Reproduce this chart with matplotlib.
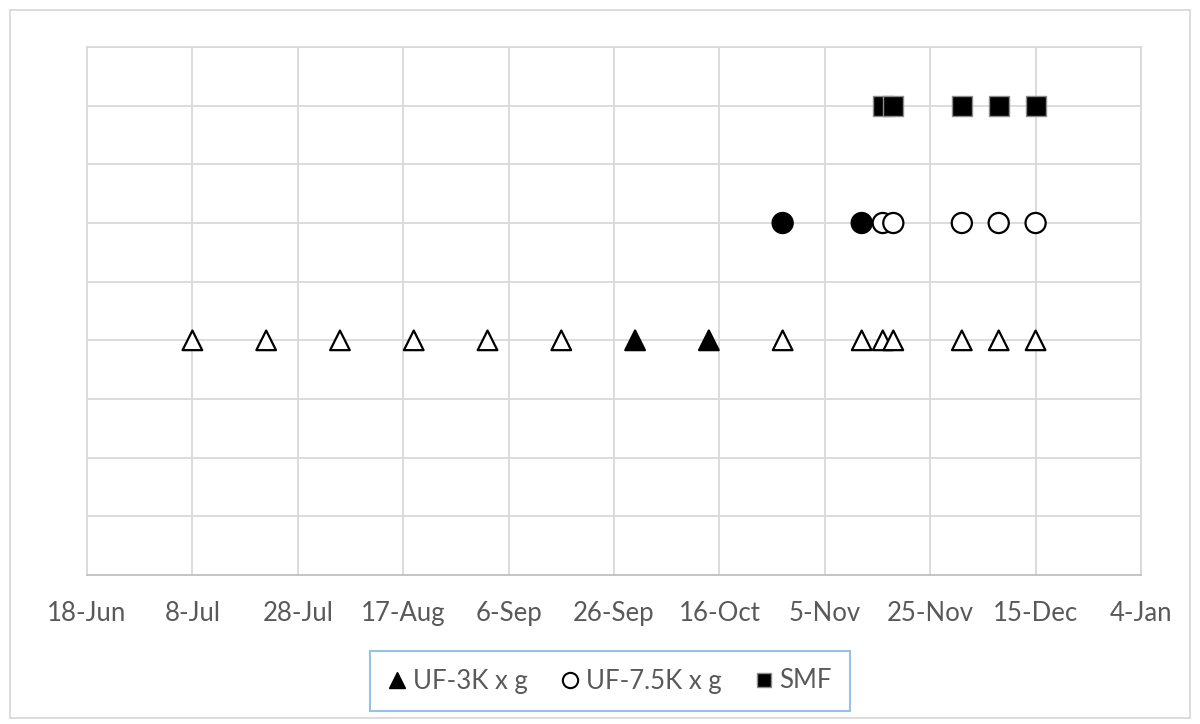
import matplotlib
matplotlib.use("Agg")
import matplotlib.pyplot as plt
import matplotlib.dates as mdates
from matplotlib.lines import Line2D
from matplotlib.patches import Rectangle
import datetime as dt

# ---- data ----
uf3k_dates = ["2018-07-08", "2018-07-22", "2018-08-05", "2018-08-19", "2018-09-02",
              "2018-09-16", "2018-09-30", "2018-10-14", "2018-10-28", "2018-11-12",
              "2018-11-16", "2018-11-18", "2018-12-01", "2018-12-08", "2018-12-15"]
uf3k_filled = [False, False, False, False, False, False, True, True, False, False,
               False, False, False, False, False]
uf3k_level = 4

uf75k_dates = ["2018-10-28", "2018-11-12", "2018-11-16", "2018-11-18",
               "2018-12-01", "2018-12-08", "2018-12-15"]
uf75k_filled = [True, True, False, False, False, False, False]
uf75k_level = 6

smf_dates = ["2018-11-16", "2018-11-18", "2018-12-01", "2018-12-08", "2018-12-15"]
smf_level = 8

tick_labels = ["18-Jun", "8-Jul", "28-Jul", "17-Aug", "6-Sep", "26-Sep",
               "16-Oct", "5-Nov", "25-Nov", "15-Dec", "4-Jan"]
legend_labels = ["UF-3K x g", "UF-7.5K x g", "SMF"]

# ---- plot ----
plt.rcParams['font.family'] = ['Lato', 'DejaVu Sans']
fig = plt.figure(figsize=(12, 7.24), dpi=100)
ax = fig.add_axes([87/1200, 1-575/724, (1141-87)/1200, (575-47)/724])

def to_d(s):
    return mdates.date2num(dt.datetime.strptime(s, "%Y-%m-%d"))

start = dt.datetime(2018, 6, 18)
ticks = [mdates.date2num(start + dt.timedelta(days=20*i)) for i in range(len(tick_labels))]

grid_c = '#d9d9d9'
for y in range(1, 10):
    ax.axhline(y, color=grid_c, lw=1.3, zorder=0)
for t in ticks[1:]:
    ax.axvline(t, color=grid_c, lw=1.3, zorder=0)

# UF-3K triangles
x3 = [to_d(s) for s in uf3k_dates]
fc3 = ['black' if f else 'white' for f in uf3k_filled]
ax.scatter(x3, [uf3k_level]*len(x3), marker='^', s=200, facecolors=fc3,
           edgecolors='black', linewidths=1.6, zorder=3)

# UF-7.5K circles
x7 = [to_d(s) for s in uf75k_dates]
fc7 = ['black' if f else 'white' for f in uf75k_filled]
ax.scatter(x7, [uf75k_level]*len(x7), marker='o', s=210, facecolors=fc7,
           edgecolors='black', linewidths=1.6, zorder=3)

# SMF squares
xs = [to_d(s) for s in smf_dates]
ax.scatter(xs, [smf_level]*len(xs), marker='s', s=190, facecolors='black',
           edgecolors='#8c8c8c', linewidths=1.0, zorder=3)

ax.set_xlim(ticks[0], ticks[-1])
ax.set_ylim(0, 9)
ax.set_xticks(ticks)
ax.set_xticklabels(tick_labels, fontsize=18.5, color='#595959')
ax.set_yticks([])
ax.tick_params(axis='x', length=0, pad=19)
for side in ['top', 'right', 'left']:
    ax.spines[side].set_color(grid_c)
    ax.spines[side].set_linewidth(1.3)
ax.spines['bottom'].set_color('#bfbfbf')
ax.spines['bottom'].set_linewidth(1.3)

handles = [
    Line2D([], [], marker='^', color='none', markerfacecolor='black', markeredgecolor='black', markersize=12),
    Line2D([], [], marker='o', color='none', markerfacecolor='white', markeredgecolor='black', markeredgewidth=1.5, markersize=11),
    Line2D([], [], marker='s', color='none', markerfacecolor='black', markeredgecolor='#8c8c8c', markersize=10.5),
]
leg = fig.legend(handles, legend_labels, loc='center', bbox_to_anchor=(610/1200, 1-681/724),
                 ncol=3, frameon=True, fancybox=False, fontsize=18.5, handlelength=0.7,
                 handletextpad=0.25, columnspacing=1.3, borderpad=0.7, borderaxespad=0)
for txt in leg.get_texts():
    txt.set_color('#595959')
leg.get_frame().set_edgecolor('#7fb2e5')
leg.get_frame().set_linewidth(1.5)

fig.patches.append(Rectangle((10/1200, 6/724), 1180/1200, 708/724, transform=fig.transFigure,
                             fill=False, edgecolor='#d9d9d9', lw=1.3))

fig.savefig('out.png', dpi=100)
